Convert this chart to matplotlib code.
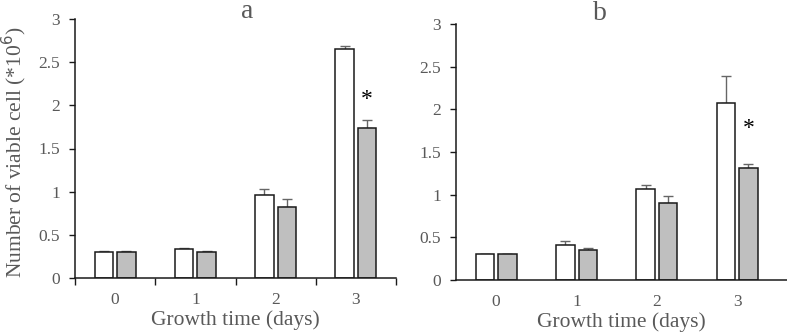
import numpy as np
import matplotlib.pyplot as plt

plt.rcParams['font.family'] = ['Liberation Serif', 'DejaVu Serif']

days = [0, 1, 2, 3]
day_labels = ['0', '1', '2', '3']

# panel a
a_white = [0.30, 0.335, 0.965, 2.65]
a_white_err = [0.01, 0.01, 0.07, 0.04]
a_gray = [0.30, 0.30, 0.82, 1.735]
a_gray_err = [0.01, 0.01, 0.09, 0.10]
a_star_y = 2.07

# panel b
b_white = [0.30, 0.41, 1.07, 2.08]
b_white_err = [0.01, 0.05, 0.04, 0.31]
b_gray = [0.30, 0.35, 0.90, 1.31]
b_gray_err = [0.01, 0.03, 0.08, 0.05]
b_star_y = 1.78

txt = '#595959'
W, H = 787, 336
fig = plt.figure(figsize=(W / 100, H / 100), dpi=100)

ax_a = fig.add_axes([75 / W, 1 - 278 / H, (396 - 75) / W, (278 - 19) / H])
ax_b = fig.add_axes([456 / W, 1 - 280 / H, (787 - 456) / W, (280 - 24) / H])


def draw(ax, white, werr, gray, gerr, star_y, xmax, boundary_ticks):
    x = np.array(days)
    bw = 0.23
    off = 0.14
    ax.bar(x - off, white, bw, color='white', edgecolor='#1a1a1a', linewidth=1.1, zorder=2)
    ax.bar(x + off, gray, bw, color='#bfbfbf', edgecolor='#1a1a1a', linewidth=1.1, zorder=2)
    ax.errorbar(x - off, white, yerr=[np.zeros(4), werr], fmt='none', ecolor='#666666',
                elinewidth=1, capsize=3.5, capthick=1, zorder=1)
    ax.errorbar(x + off, gray, yerr=[np.zeros(4), gerr], fmt='none', ecolor='#666666',
                elinewidth=1, capsize=3.5, capthick=1, zorder=1)
    ax.text(3 + off, star_y, '*', ha='center', va='center', fontsize=17, color='black')
    ax.set_xlim(-0.5, xmax)
    ax.set_ylim(0, 3)
    ax.set_yticks([0, 0.5, 1, 1.5, 2, 2.5, 3])
    ax.set_yticklabels(['0', '0.5', '1', '1.5', '2', '2.5', '3'])
    ax.tick_params(axis='y', colors='#1a1a1a', labelcolor=txt, labelsize=12.5,
                   length=4, width=1, pad=7)
    if boundary_ticks:
        ax.set_xticks([-0.5, 0.5, 1.5, 2.5, 3.5])
        ax.set_xticklabels([])
        ax.tick_params(axis='x', which='major', direction='out', length=5, width=1, colors='#1a1a1a')
    else:
        ax.set_xticks([])
    ax.set_xticks(days, minor=True)
    ax.set_xticklabels(day_labels, minor=True)
    ax.tick_params(axis='x', which='minor', length=0, labelsize=12.5, labelcolor=txt, pad=10)
    for s in ['top', 'right']:
        ax.spines[s].set_visible(False)
    for s in ['left', 'bottom']:
        ax.spines[s].set_color('#1a1a1a')
        ax.spines[s].set_linewidth(1.1)
    ax.set_xlabel('Growth time (days)', fontsize=15.5, color=txt, labelpad=2)


draw(ax_a, a_white, a_white_err, a_gray, a_gray_err, a_star_y, 3.5, True)
draw(ax_b, b_white, b_white_err, b_gray, b_gray_err, b_star_y, 3.62, False)

fig.text(247 / W, 1 - 12 / H, 'a', ha='center', va='center', fontsize=20, color=txt)
fig.text(600 / W, 1 - 13 / H, 'b', ha='center', va='center', fontsize=20, color=txt)
fig.text(14 / W, 1 - 152 / H, 'Number of viable cell (*10$^6$)', rotation=90,
         ha='center', va='center', fontsize=15.5, color=txt)

fig.savefig('out.png', dpi=100)
